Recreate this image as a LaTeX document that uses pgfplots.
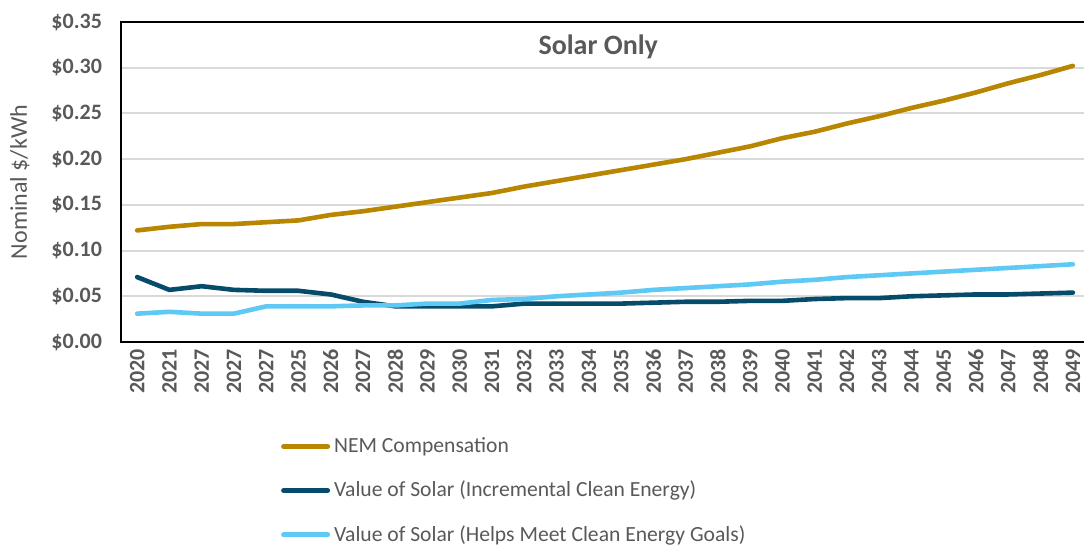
\documentclass[border=0pt]{standalone}
\usepackage{pgfplots}
\pgfplotsset{compat=1.18}
\usepackage{fontspec}
\setmainfont{Carlito}
\definecolor{nem}{RGB}{184,134,0}
\definecolor{vosinc}{RGB}{6,76,106}
\definecolor{vosgoal}{RGB}{94,201,245}
\definecolor{txt}{RGB}{89,89,89}
\definecolor{gridc}{RGB}{217,217,217}
\begin{document}
\begin{tikzpicture}
\useasboundingbox (0,0) rectangle (542pt,273pt);
\begin{axis}[
    at={(60.5pt,102pt)}, anchor=south west,
    scale only axis, width=484pt, height=160pt,
    xmin=-0.5, xmax=29.5, ymin=0, ymax=0.35,
    xtick={0,...,29},
    xticklabels={2020,2021,2027,2027,2027,2025,2026,2027,2028,2029,2030,2031,2032,2033,2034,2035,2036,2037,2038,2039,2040,2041,2042,2043,2044,2045,2046,2047,2048,2049},
    ytick={0,0.05,0.1,0.15,0.2,0.25,0.3,0.35},
    yticklabels={\$0.00,\$0.05,\$0.10,\$0.15,\$0.20,\$0.25,\$0.30,\$0.35},
    major tick length=0pt,
    ymajorgrids, grid style={gridc, line width=1pt},
    axis line style={black, line width=1.2pt},
    tick label style={font=\fontsize{11}{13}\selectfont\bfseries, text=txt},
    xticklabel style={rotate=90, anchor=east},
    yticklabel style={xshift=-6pt},
    ylabel={Nominal \$/kWh},
    every axis y label/.style={at={(rel axis cs:0,0.5)}, xshift=-50.5pt, rotate=90, anchor=center,
        font=\fontsize{12}{14}\selectfont, text=txt},
    legend style={at={(0.165,-0.285)}, anchor=north west, draw=none, fill=none,
        font=\fontsize{10.8}{12}\selectfont, text=txt, row sep=8.8pt, inner sep=0pt},
    legend cell align=left,
    legend image code/.code={\draw[#1, line width=2.5pt, line cap=round] (0pt,0pt) -- (22pt,0pt);},
    every axis plot/.append style={line width=2.3pt, line join=round, line cap=round},
]
\addplot[nem] coordinates {
(0,0.122) (1,0.126) (2,0.129) (3,0.129) (4,0.131) (5,0.133) (6,0.139) (7,0.143) (8,0.148) (9,0.153)
(10,0.158) (11,0.163) (12,0.170) (13,0.176) (14,0.182) (15,0.188) (16,0.194) (17,0.200) (18,0.207) (19,0.214)
(20,0.223) (21,0.230) (22,0.239) (23,0.247) (24,0.256) (25,0.264) (26,0.273) (27,0.283) (28,0.292) (29,0.302)};
\addlegendentry{NEM Compensation}
\addplot[vosinc] coordinates {
(0,0.071) (1,0.057) (2,0.061) (3,0.057) (4,0.056) (5,0.056) (6,0.052) (7,0.044) (8,0.039) (9,0.039)
(10,0.039) (11,0.039) (12,0.042) (13,0.042) (14,0.042) (15,0.042) (16,0.043) (17,0.044) (18,0.044) (19,0.045)
(20,0.045) (21,0.047) (22,0.048) (23,0.048) (24,0.050) (25,0.051) (26,0.052) (27,0.052) (28,0.053) (29,0.054)};
\addlegendentry{Value of Solar (Incremental Clean Energy)}
\addplot[vosgoal] coordinates {
(0,0.031) (1,0.033) (2,0.031) (3,0.031) (4,0.039) (5,0.039) (6,0.039) (7,0.040) (8,0.040) (9,0.042)
(10,0.042) (11,0.046) (12,0.047) (13,0.050) (14,0.052) (15,0.054) (16,0.057) (17,0.059) (18,0.061) (19,0.063)
(20,0.066) (21,0.068) (22,0.071) (23,0.073) (24,0.075) (25,0.077) (26,0.079) (27,0.081) (28,0.083) (29,0.085)};
\addlegendentry{Value of Solar (Helps Meet Clean Energy Goals)}
\node[font=\fontsize{14}{16}\selectfont\bfseries, text=txt] at (rel axis cs:0.493,0.922) {Solar Only};
\end{axis}
\end{tikzpicture}
\end{document}
